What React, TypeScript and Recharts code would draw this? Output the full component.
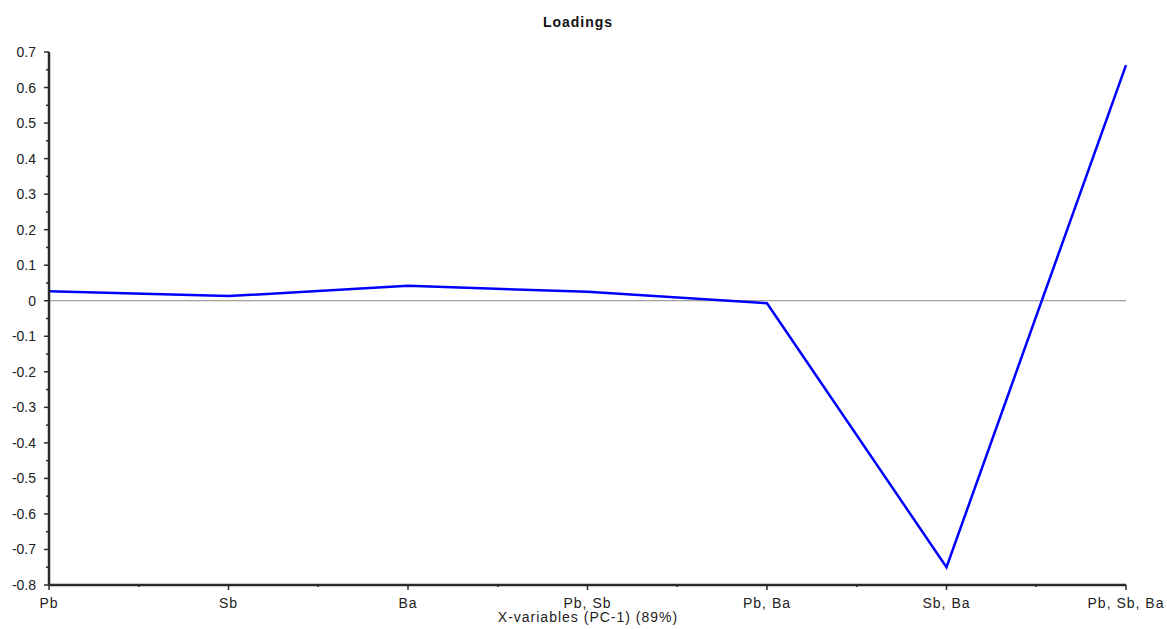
import React from "react";
import { LineChart, Line, XAxis, YAxis, ReferenceLine } from "recharts";

// Variable combinations along the x axis
const categories = ["Pb", "Sb", "Ba", "Pb, Sb", "Pb, Ba", "Sb, Ba", "Pb, Sb, Ba"];
// PC-1 loadings for each variable
const loadings = [0.027, 0.013, 0.042, 0.025, -0.007, -0.75, 0.663];
// y-axis ticks: labelled majors every 0.1, unlabelled minors in between
const yTicks = [
  0.7, 0.65, 0.6, 0.55, 0.5, 0.45, 0.4, 0.35, 0.3, 0.25, 0.2, 0.15, 0.1, 0.05, 0,
  -0.05, -0.1, -0.15, -0.2, -0.25, -0.3, -0.35, -0.4, -0.45, -0.5, -0.55, -0.6,
  -0.65, -0.7, -0.75, -0.8,
];
const xTicks = [0, 0.5, 1, 1.5, 2, 2.5, 3, 3.5, 4, 4.5, 5, 5.5, 6];

const rows = categories.map((name, i) => ({ idx: i, name, value: loadings[i] }));

const FONT = "'Liberation Sans', Arial, sans-serif";
const AXIS = "#2b2b2b";

const isMajor = (v: number) => Math.abs(v * 10 - Math.round(v * 10)) < 1e-6;

const YTick = (props: any) => {
  const { x, y, payload } = props;
  const v = payload.value as number;
  const major = isMajor(v);
  const label = Math.abs(v) < 1e-9 ? "0" : v.toFixed(1);
  return (
    <g>
      <line x1={x - (major ? 5 : 3)} x2={x} y1={y} y2={y} stroke={AXIS} strokeWidth={1.5} />
      {major && (
        <text x={x - 13} y={y} dy={5} textAnchor="end" fontFamily={FONT} fontSize={14} fill="#222">
          {label}
        </text>
      )}
    </g>
  );
};

const XTick = (props: any) => {
  const { x, y, payload } = props;
  const v = payload.value as number;
  const major = Number.isInteger(v);
  return (
    <g>
      <line x1={x} x2={x} y1={y} y2={y + (major ? 5 : 2)} stroke={AXIS} strokeWidth={1.5} />
      {major && (
        <text
          x={x}
          y={y}
          dy={23}
          textAnchor="middle"
          fontFamily={FONT}
          fontSize={14}
          letterSpacing={1}
          fill="#222"
        >
          {categories[v]}
        </text>
      )}
    </g>
  );
};

export default function App() {
  return (
    <div style={{ position: "absolute", left: 0, top: 0, width: 1167, height: 629, background: "#fff" }}>
      <LineChart
        width={1167}
        height={629}
        data={rows}
        margin={{ top: 52, right: 41, bottom: 0, left: 0 }}
      >
        <text
          x={578}
          y={27}
          textAnchor="middle"
          fontFamily={FONT}
          fontSize={14}
          fontWeight="bold"
          letterSpacing={1}
          fill="#111"
        >
          Loadings
        </text>
        <XAxis
          dataKey="idx"
          type="number"
          domain={[0, 6]}
          ticks={xTicks}
          interval={0}
          height={44}
          tickSize={0}
          tickMargin={0}
          tickLine={false}
          axisLine={{ stroke: AXIS, strokeWidth: 2.5 }}
          tick={<XTick />}
        />
        <YAxis
          type="number"
          domain={[-0.8, 0.7]}
          ticks={yTicks}
          interval={0}
          width={49}
          tickSize={0}
          tickMargin={0}
          tickLine={false}
          axisLine={{ stroke: AXIS, strokeWidth: 2.5 }}
          tick={<YTick />}
        />
        <ReferenceLine y={0} stroke="#8a8a8a" strokeWidth={1} />
        <Line
          dataKey="value"
          stroke="#0000ff"
          strokeWidth={2.5}
          dot={false}
          isAnimationActive={false}
        />
        <text
          x={588}
          y={622}
          textAnchor="middle"
          fontFamily={FONT}
          fontSize={14}
          letterSpacing={1}
          fill="#222"
        >
          X-variables (PC-1) (89%)
        </text>
      </LineChart>
    </div>
  );
}
